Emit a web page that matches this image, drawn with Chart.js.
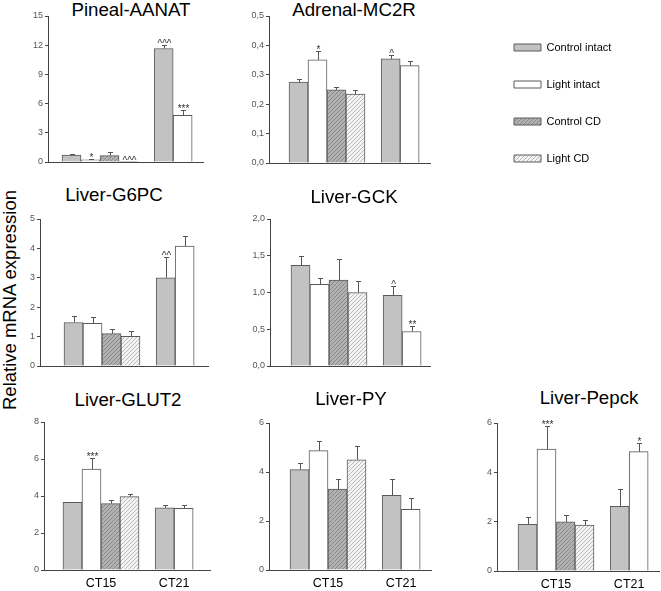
<!DOCTYPE html>
<html><head><meta charset="utf-8">
<script src="https://cdn.jsdelivr.net/npm/chart.js@4.4.1/dist/chart.umd.min.js"></script>
<style>
html,body{margin:0;padding:0;background:#fff;}
body{width:661px;height:591px;overflow:hidden;position:relative;font-family:"Liberation Sans",Arial,sans-serif;}
canvas{position:absolute;}
.ttl{position:absolute;transform:translate(-50%,-50%);font-size:18.7px;font-weight:normal;white-space:nowrap;color:#000;line-height:1;}
#ylab{position:absolute;left:10px;top:300px;transform:translate(-50%,-50%) rotate(-90deg);font-size:18.5px;font-weight:normal;white-space:nowrap;color:#000;line-height:1;}
</style></head><body>
<div id="ylab">Relative mRNA expression</div>
<script>
// ---------- data ----------
const series = ['Control intact', 'Light intact', 'Control CD', 'Light CD'];
const groups = ['CT15', 'CT21'];

// each: per series, values for [CT15, CT21] (CD groups only at CT15)
const aanatMean = [[0.70, 11.66], [0.22, 4.79], [0.65], [0.03]];
const aanatErr  = [[0.13, 0.40], [0.12, 0.52], [0.40], [0]];
const aanatSig  = [['', '^^^'], ['*', '***'], [''], ['^^^']];
const aanatTicks = [0, 3, 6, 9, 12, 15];

const mc2rMean = [[0.275, 0.354], [0.351, 0.331], [0.249], [0.234]];
const mc2rErr  = [[0.011, 0.014], [0.031, 0.015], [0.009], [0.013]];
const mc2rSig  = [['', '^'], ['*', ''], [''], ['']];
const mc2rTicks = [0, 0.1, 0.2, 0.3, 0.4, 0.5];

const g6pcMean = [[1.48, 3.00], [1.45, 4.08], [1.10], [1.01]];
const g6pcErr  = [[0.22, 0.72], [0.21, 0.33], [0.17], [0.19]];
const g6pcSig  = [['', '^^'], ['', ''], [''], ['']];
const g6pcTicks = [0, 1, 2, 3, 4, 5];

const gckMean = [[1.37, 0.96], [1.11, 0.47], [1.17], [1.00]];
const gckErr  = [[0.13, 0.13], [0.09, 0.08], [0.29], [0.15]];
const gckSig  = [['', '^'], ['', '**'], [''], ['']];
const gckTicks = [0, 0.5, 1.0, 1.5, 2.0];

const glut2Mean = [[3.66, 3.36], [5.45, 3.34], [3.59], [3.97]];
const glut2Err  = [[0.04, 0.16], [0.63, 0.18], [0.18], [0.16]];
const glut2Sig  = [['', ''], ['***', ''], [''], ['']];
const glut2Ticks = [0, 2, 4, 6, 8];

const pyMean = [[4.10, 3.05], [4.87, 2.48], [3.30], [4.50]];
const pyErr  = [[0.26, 0.65], [0.41, 0.45], [0.40], [0.57]];
const pySig  = [['', ''], ['', ''], [''], ['']];
const pyTicks = [0, 2, 4, 6];

const pepckMean = [[1.89, 2.62], [4.94, 4.84], [1.99], [1.86]];
const pepckErr  = [[0.31, 0.70], [0.92, 0.34], [0.28], [0.19]];
const pepckSig  = [['', ''], ['***', '*'], [''], ['']];
const pepckTicks = [0, 2, 4, 6];

// ---------- styling / layout ----------
Chart.defaults.font.family = '"Liberation Sans", Arial, sans-serif';
const groupOffsets = [0, 4.85];
const SLOT = 19, YW = 30;

function hatch(base, line) {
  const c = document.createElement('canvas');
  c.width = 4; c.height = 4;
  const x = c.getContext('2d');
  x.fillStyle = base; x.fillRect(0, 0, 4, 4);
  x.fillStyle = line;
  for (let i = 0; i < 4; i++) x.fillRect(3 - i, i, 1, 1);
  return x.createPattern(c, 'repeat');
}
const fills = ['#c2c2c2', '#ffffff', hatch('#b2b2b2', '#888888'), hatch('#f4f4f4', '#b8b8b8')];
const edge = '#5a5a5a';

const comma = v => v.toFixed(1).replace('.', ',');
const plain = v => String(v);

const panels = [
  {title: 'Pineal-AANAT', mean: aanatMean, err: aanatErr, sig: aanatSig, ticks: aanatTicks, fmt: plain,
   rect: [0, 0, 225, 178], axis: [48, 203, 16, 162], bar1: 62, xl: false, tpos: [131, 10]},
  {title: 'Adrenal-MC2R', mean: mc2rMean, err: mc2rErr, sig: mc2rSig, ticks: mc2rTicks, fmt: comma,
   rect: [222, 0, 218, 178], axis: [269, 430, 16, 163], bar1: 289, xl: false, tpos: [354, 10]},
  {title: 'Liver-G6PC', mean: g6pcMean, err: g6pcErr, sig: g6pcSig, ticks: g6pcTicks, fmt: plain,
   rect: [0, 178, 222, 200], axis: [40, 208, 219, 366], bar1: 64, xl: false, tpos: [114, 195]},
  {title: 'Liver-GCK', mean: gckMean, err: gckErr, sig: gckSig, ticks: gckTicks, fmt: comma,
   rect: [222, 178, 218, 200], axis: [270, 430, 219, 366], bar1: 291, xl: false, tpos: [354, 197]},
  {title: 'Liver-GLUT2', mean: glut2Mean, err: glut2Err, sig: glut2Sig, ticks: glut2Ticks, fmt: plain,
   rect: [0, 378, 222, 213], axis: [44, 210, 422, 570], bar1: 63, xl: true, tpos: [128, 400]},
  {title: 'Liver-PY', mean: pyMean, err: pyErr, sig: pySig, ticks: pyTicks, fmt: plain,
   rect: [222, 378, 218, 213], axis: [269, 431, 423, 570], bar1: 290, xl: true, tpos: [351, 399]},
  {title: 'Liver-Pepck', mean: pepckMean, err: pepckErr, sig: pepckSig, ticks: pepckTicks, fmt: plain,
   rect: [440, 378, 221, 213], axis: [497, 659, 423, 571], bar1: 518, xl: true, tpos: [589, 398]}
];

const errorBars = {
  id: 'errorBars',
  afterDatasetsDraw(chart) {
    const ctx = chart.ctx, ys = chart.scales.y;
    ctx.save();
    chart.data.datasets.forEach((ds, i) => {
      const meta = chart.getDatasetMeta(i);
      meta.data.forEach((bar, j) => {
        const v = ds.data[j].y, e = ds.err[j] || 0;
        const x = Math.round(bar.x) + 0.5;
        const yE = Math.round(ys.getPixelForValue(v + e)) + 0.5;
        if (e > 0) {
          ctx.strokeStyle = '#555'; ctx.lineWidth = 1;
          ctx.beginPath();
          ctx.moveTo(x, bar.y); ctx.lineTo(x, yE);
          ctx.moveTo(x - 2.5, yE); ctx.lineTo(x + 2.5, yE);
          ctx.stroke();
        }
        if (ds.sig[j]) {
          ctx.fillStyle = '#333';
          ctx.font = '10px "Liberation Sans", Arial, sans-serif';
          ctx.textAlign = 'center'; ctx.textBaseline = 'alphabetic';
          ctx.fillText(ds.sig[j], x, yE + 1);
        }
      });
    });
    ctx.restore();
  }
};

function mkCanvas(rect) {
  const c = document.createElement('canvas');
  c.width = rect[2]; c.height = rect[3];
  c.style.left = rect[0] + 'px'; c.style.top = rect[1] + 'px';
  c.style.width = rect[2] + 'px'; c.style.height = rect[3] + 'px';
  document.body.appendChild(c);
  return c;
}

panels.forEach(p => {
  const t = document.createElement('div');
  t.className = 'ttl'; t.textContent = p.title;
  t.style.left = p.tpos[0] + 'px'; t.style.top = p.tpos[1] + 'px';
  document.body.appendChild(t);

  const [L, T, W, H] = p.rect;
  const [x0, x1, yTop, yBot] = p.axis;
  const XH = p.xl ? 18 : 0;
  const c0 = p.bar1 + SLOT / 2;
  const xmin = (x0 - c0) / SLOT, xmax = (x1 - c0) / SLOT;
  const groupCenters = [groupOffsets[0] + 1.5, groupOffsets[1] + 0.5];

  const datasets = series.map((name, s) => ({
    label: name,
    data: p.mean[s].map((v, g) => ({x: groupOffsets[g] + s, y: v})),
    err: p.err[s], sig: p.sig[s],
    backgroundColor: fills[s], borderColor: edge, borderWidth: 1,
    grouped: false, barPercentage: 1, categoryPercentage: 1
  }));

  new Chart(mkCanvas(p.rect), {
    type: 'bar',
    data: {datasets},
    options: {
      responsive: false, animation: false, devicePixelRatio: 1, events: [],
      layout: {padding: {left: x0 - L - YW, top: yTop - T, right: L + W - x1, bottom: T + H - yBot - XH}},
      plugins: {legend: {display: false}, tooltip: {enabled: false}, title: {display: false}},
      scales: {
        x: {
          type: 'linear', min: xmin, max: xmax, offset: false,
          grid: {display: false, drawTicks: false},
          border: {display: true, color: '#444', width: 1},
          afterBuildTicks: s => { s.ticks = groupCenters.map(v => ({value: v})); },
          afterFit: s => { s.height = XH; },
          ticks: {display: p.xl, padding: 6, color: '#000', font: {size: 12.5},
                  callback: (v) => groups[groupCenters.indexOf(v)] ?? ''}
        },
        y: {
          min: 0, max: p.ticks[p.ticks.length - 1],
          afterBuildTicks: s => { s.ticks = p.ticks.map(v => ({value: v})); },
          afterFit: s => { s.width = YW; },
          grid: {display: true, drawOnChartArea: false, drawTicks: true, tickLength: 3, color: '#444'},
          border: {display: true, color: '#444', width: 1},
          ticks: {padding: 2, color: '#555', font: {size: 9}, callback: v => p.fmt(v)}
        }
      }
    },
    plugins: [errorBars]
  });
});

// legend
new Chart(mkCanvas([440, 0, 221, 240]), {
  type: 'bar',
  data: {labels: [], datasets: series.map((name, s) => ({label: name, data: [], backgroundColor: fills[s], borderColor: edge, borderWidth: 1}))},
  options: {
    responsive: false, animation: false, devicePixelRatio: 1, events: [],
    layout: {padding: {left: 48, top: 16}},
    scales: {x: {display: false}, y: {display: false}},
    plugins: {
      tooltip: {enabled: false},
      legend: {position: 'left', align: 'start', maxWidth: 170,
        labels: {boxWidth: 27, boxHeight: 7, padding: 26, color: '#000', font: {size: 11}}}
    }
  }
});
</script>
</body></html>
